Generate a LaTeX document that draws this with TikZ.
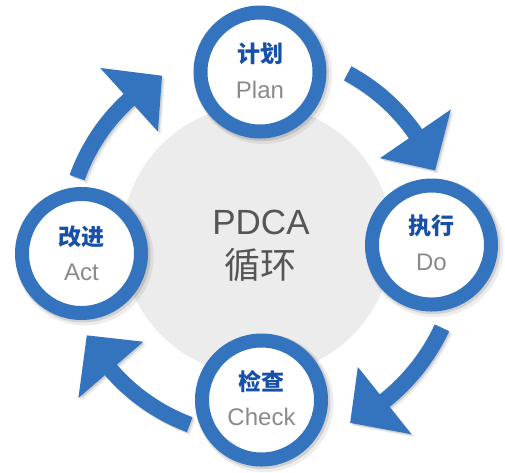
\documentclass[tikz,border=0pt]{standalone}
\usepackage{fontspec}
\setmainfont{Liberation Sans}
\newfontfamily\cjk{Noto Sans CJK SC}
\usetikzlibrary{calc}
\definecolor{ringblue}{RGB}{52,116,190}
\definecolor{titleblue}{RGB}{22,80,168}
\definecolor{engray}{RGB}{138,138,138}
\definecolor{centergray}{RGB}{236,236,236}
\definecolor{centertext}{RGB}{85,85,85}
% #1 centre, #2 radius, #3 tail angle, #4 head base angle, #5 tip angle, #6 options
\newcommand{\pdcaArrow}[6]{%
  \path[#6] ($(#1)+({#3}:{#2+8})$) arc[start angle={#3}, end angle={#4}, radius={#2+8}]
    -- ($(#1)+({#4}:{#2+43})$) -- ($(#1)+({#5}:{#2})$) -- ($(#1)+({#4}:{#2-43})$)
    -- ($(#1)+({#4}:{#2-8})$) arc[start angle={#4}, end angle={#3}, radius={#2-8}] -- cycle;}
\begin{document}
\begin{tikzpicture}[x=1pt, y=1pt,
  stage/.style={circle, draw=ringblue, line width=14pt, fill=white, minimum size=119pt, inner sep=0pt},
  title/.style={font=\cjk\bfseries\fontsize{23}{23}\selectfont, text=titleblue, inner sep=0pt},
  sub/.style={font=\fontsize{24}{24}\selectfont, text=engray, inner sep=0pt},
  shadowA/.style={fill=black, opacity=0.07},
  shadowB/.style={fill=black, opacity=0.12}]
\useasboundingbox (0,0) rectangle (505,-472);
% centre disc
\node[circle, fill=centergray, minimum size=270pt, inner sep=0pt] (core) at (257,-240) {};
\node[font=\fontsize{35}{35}\selectfont, text=centertext, inner sep=0pt] (pdca) at (261,-222) {PDCA};
\node[font=\cjk\fontsize{36}{36}\selectfont, text=centertext, inner sep=0pt] (cycle) at (260,-265) {循环};
% arrow centres
\coordinate (C) at (258,-242);
\coordinate (Cs1) at (261,-245);
\coordinate (Cs2) at (259.5,-243.5);
% arrow shadows
\foreach \R/\a/\b/\c in {191/62/34.5/22, 203/-25/-51.4/-63, 195/249.5/221/208.6, 192/160.4/132.2/120}{
  \pdcaArrow{Cs1}{\R}{\a}{\b}{\c}{shadowA}
  \pdcaArrow{Cs2}{\R}{\a}{\b}{\c}{shadowB}
}
% arrows
\pdcaArrow{C}{191}{62}{34.5}{22}{fill=ringblue}
\pdcaArrow{C}{203}{-25}{-51.4}{-63}{fill=ringblue}
\pdcaArrow{C}{195}{249.5}{221}{208.6}{fill=ringblue}
\pdcaArrow{C}{192}{160.4}{132.2}{120}{fill=ringblue}
% circle shadows
\foreach \x/\y in {260/-72, 431.5/-245, 261.5/-400, 81.5/-253.5}{
  \fill[shadowA] (\x+3,\y-3) circle[radius=69];
  \fill[shadowB] (\x+1.5,\y-1.5) circle[radius=67.5];
}
% stages
\node[stage] (plan) at (260,-72) {};
\node[title] (planT) at (260,-54) {计划};
\node[sub] (planS) at (260,-90) {Plan};
\node[stage] (do) at (431.5,-245) {};
\node[title] (doT) at (431.5,-226) {执行};
\node[sub] (doS) at (431.5,-262) {Do};
\node[stage] (check) at (261.5,-400) {};
\node[title] (checkT) at (261.5,-382) {检查};
\node[sub] (checkS) at (261.5,-417) {Check};
\node[stage] (act) at (81.5,-253.5) {};
\node[title] (actT) at (81.5,-237) {改进};
\node[sub] (actS) at (81.5,-272) {Act};
\end{tikzpicture}
\end{document}
